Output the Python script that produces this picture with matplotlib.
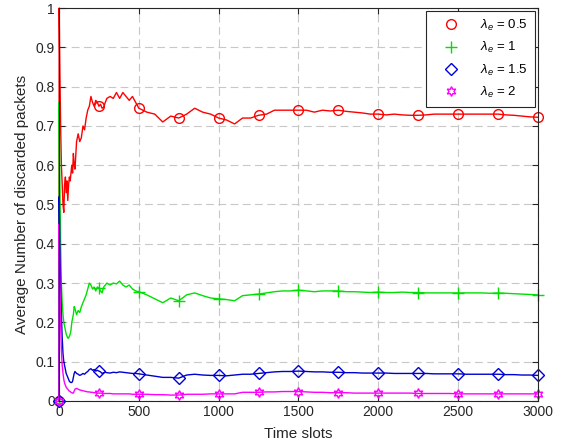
import numpy as np
import matplotlib
matplotlib.use("Agg")
import matplotlib.pyplot as plt

plt.rcParams['font.family'] = ['Liberation Sans', 'DejaVu Sans']
plt.rcParams['mathtext.fontset'] = 'custom'
plt.rcParams['mathtext.rm'] = 'Liberation Sans'
plt.rcParams['mathtext.it'] = 'Liberation Sans:italic'

t_early = [0, 1, 5, 10, 15, 20, 25, 30, 35, 40, 45, 50, 55, 60, 65, 70, 75, 80, 85, 90, 95, 100,
           110, 120, 130, 140, 150, 160, 170, 180, 190, 200, 210, 220, 230, 240, 250, 260, 270,
           280, 290, 300, 320, 340, 360, 380, 400, 420, 440, 460, 480, 500]
t_late = list(range(550, 3001, 50))
t = np.array(t_early + t_late)

red = [0, 1.0, 0.85, 0.7, 0.6, 0.55, 0.5, 0.48, 0.55, 0.57, 0.53, 0.56, 0.51, 0.55, 0.57, 0.56, 0.58,
       0.6, 0.58, 0.63, 0.6, 0.59, 0.66, 0.68, 0.66, 0.67, 0.70, 0.69, 0.72, 0.74, 0.75, 0.775, 0.76,
       0.75, 0.765, 0.76, 0.75, 0.755, 0.745, 0.748, 0.76, 0.77, 0.775, 0.77, 0.785, 0.77, 0.785,
       0.775, 0.765, 0.775, 0.76, 0.745,
       0.735, 0.73, 0.71, 0.725, 0.72, 0.73, 0.745, 0.735, 0.73, 0.72, 0.715, 0.705, 0.72, 0.72,
       0.727, 0.73, 0.74, 0.74, 0.74, 0.74, 0.74, 0.735, 0.74, 0.738, 0.74, 0.737, 0.735, 0.733,
       0.73, 0.73, 0.728, 0.73, 0.728, 0.727, 0.727, 0.728, 0.73, 0.73, 0.73, 0.73, 0.73, 0.73,
       0.73, 0.73, 0.73, 0.728, 0.727, 0.725, 0.723, 0.722]

green = [0, 0.76, 0.55, 0.4, 0.3, 0.25, 0.22, 0.2, 0.19, 0.18, 0.17, 0.165, 0.16, 0.16, 0.165, 0.17,
         0.18, 0.2, 0.21, 0.22, 0.24, 0.235, 0.22, 0.23, 0.225, 0.24, 0.25, 0.26, 0.27, 0.285, 0.3,
         0.295, 0.285, 0.29, 0.28, 0.29, 0.288, 0.28, 0.275, 0.29, 0.295, 0.3, 0.295, 0.3, 0.298,
         0.305, 0.295, 0.29, 0.295, 0.285, 0.28, 0.278,
         0.27, 0.26, 0.25, 0.262, 0.255, 0.27, 0.275, 0.268, 0.262, 0.26, 0.258, 0.255, 0.268, 0.27,
         0.272, 0.275, 0.278, 0.28, 0.28, 0.282, 0.28, 0.278, 0.28, 0.28, 0.28, 0.278, 0.278, 0.277,
         0.276, 0.277, 0.276, 0.276, 0.277, 0.276, 0.276, 0.275, 0.275, 0.275, 0.275, 0.275, 0.275,
         0.275, 0.275, 0.274, 0.275, 0.274, 0.273, 0.272, 0.271, 0.27]

blue = [0, 0.52, 0.4, 0.3, 0.22, 0.16, 0.12, 0.1, 0.09, 0.08, 0.07, 0.065, 0.06, 0.055, 0.05, 0.048,
        0.047, 0.047, 0.05, 0.06, 0.07, 0.075, 0.07, 0.068, 0.065, 0.067, 0.07, 0.068, 0.072, 0.075,
        0.08, 0.082, 0.078, 0.08, 0.076, 0.078, 0.076, 0.074, 0.07, 0.072, 0.073, 0.072, 0.071,
        0.073, 0.072, 0.074, 0.073, 0.072, 0.071, 0.07, 0.07, 0.069,
        0.066, 0.063, 0.06, 0.06, 0.058, 0.066, 0.068, 0.066, 0.065, 0.065, 0.064, 0.066, 0.068,
        0.068, 0.07, 0.072, 0.074, 0.075, 0.075, 0.076, 0.075, 0.074, 0.074, 0.073, 0.073, 0.072,
        0.072, 0.071, 0.071, 0.071, 0.071, 0.07, 0.07, 0.07, 0.07, 0.07, 0.069, 0.069, 0.069, 0.069,
        0.068, 0.068, 0.068, 0.068, 0.068, 0.067, 0.067, 0.066, 0.066, 0.065]

magenta = [0, 0.45, 0.3, 0.2, 0.13, 0.09, 0.07, 0.055, 0.045, 0.04, 0.035, 0.032, 0.03, 0.027, 0.025,
           0.024, 0.022, 0.021, 0.02, 0.02, 0.025, 0.03, 0.032, 0.03, 0.028, 0.027, 0.026, 0.025,
           0.024, 0.023, 0.023, 0.022, 0.022, 0.021, 0.021, 0.02, 0.02, 0.02, 0.02, 0.019, 0.019,
           0.019, 0.019, 0.018, 0.018, 0.018, 0.018, 0.018, 0.018, 0.017, 0.017, 0.017,
           0.017, 0.016, 0.016, 0.015, 0.015, 0.017, 0.017, 0.017, 0.018, 0.018, 0.018, 0.018, 0.022,
           0.022, 0.022, 0.023, 0.023, 0.024, 0.024, 0.024, 0.023, 0.022, 0.022, 0.021, 0.021, 0.021,
           0.02, 0.02, 0.02, 0.02, 0.02, 0.02, 0.02, 0.02, 0.019, 0.019, 0.019, 0.019, 0.019, 0.018,
           0.018, 0.018, 0.018, 0.018, 0.018, 0.018, 0.018, 0.018, 0.018, 0.018]

labels = [r'$\lambda_e$ = 0.5', r'$\lambda_e$ = 1', r'$\lambda_e$ = 1.5', r'$\lambda_e$ = 2']
colors = ['#ff0000', '#00e000', '#0000d0', '#ff00ff']
markers = ['o', '+', 'D', (6, 1, 0)]
msizes = [7, 8, 6, 7]
series = [red, green, blue, magenta]

fig = plt.figure(figsize=(5.62, 4.46), dpi=100)
ax = fig.add_axes([0.105, 0.101, 0.852, 0.881])

mark = np.isin(t, np.arange(0, 3001, 250))
for y, lab, c, m, ms in zip(series, labels, colors, markers, msizes):
    ax.plot(t, y, color=c, lw=1.0, marker=m, markevery=list(np.where(mark)[0]),
            markersize=ms, markerfacecolor='none', markeredgecolor=c, markeredgewidth=1.0,
            label=lab, clip_on=False, zorder=3)

ax.set_xlim(0, 3000)
ax.set_ylim(0, 1)
ax.set_xticks(np.arange(0, 3001, 500))
ax.set_yticks(np.arange(0, 1.01, 0.1))
ax.set_yticklabels(['0', '0.1', '0.2', '0.3', '0.4', '0.5', '0.6', '0.7', '0.8', '0.9', '1'])
ax.tick_params(direction='in', labelsize=10, colors='#262626', top=True, right=True, length=4, pad=3)
ax.grid(True, ls=(0, (7, 4)), color='#c8c8c8', lw=0.8)
for s in ax.spines.values():
    s.set_color('#262626')
    s.set_linewidth(0.8)
    s.set_zorder(4)
ax.set_xlabel('Time slots', fontsize=11, color='#262626', labelpad=6)
ax.set_ylabel('Average Number of discarded packets', fontsize=11, color='#262626', labelpad=5)

leg = ax.legend(loc='upper right', fontsize=9.5, frameon=True, fancybox=False, edgecolor='#262626',
                framealpha=1, borderaxespad=0.25, handlelength=2.8, labelspacing=0.55,
                borderpad=0.5)
leg.get_frame().set_linewidth(0.8)
leg.set_zorder(5)
for h in leg.legend_handles:
    h.set_linestyle('none')

fig.savefig('out.png', dpi=100)
